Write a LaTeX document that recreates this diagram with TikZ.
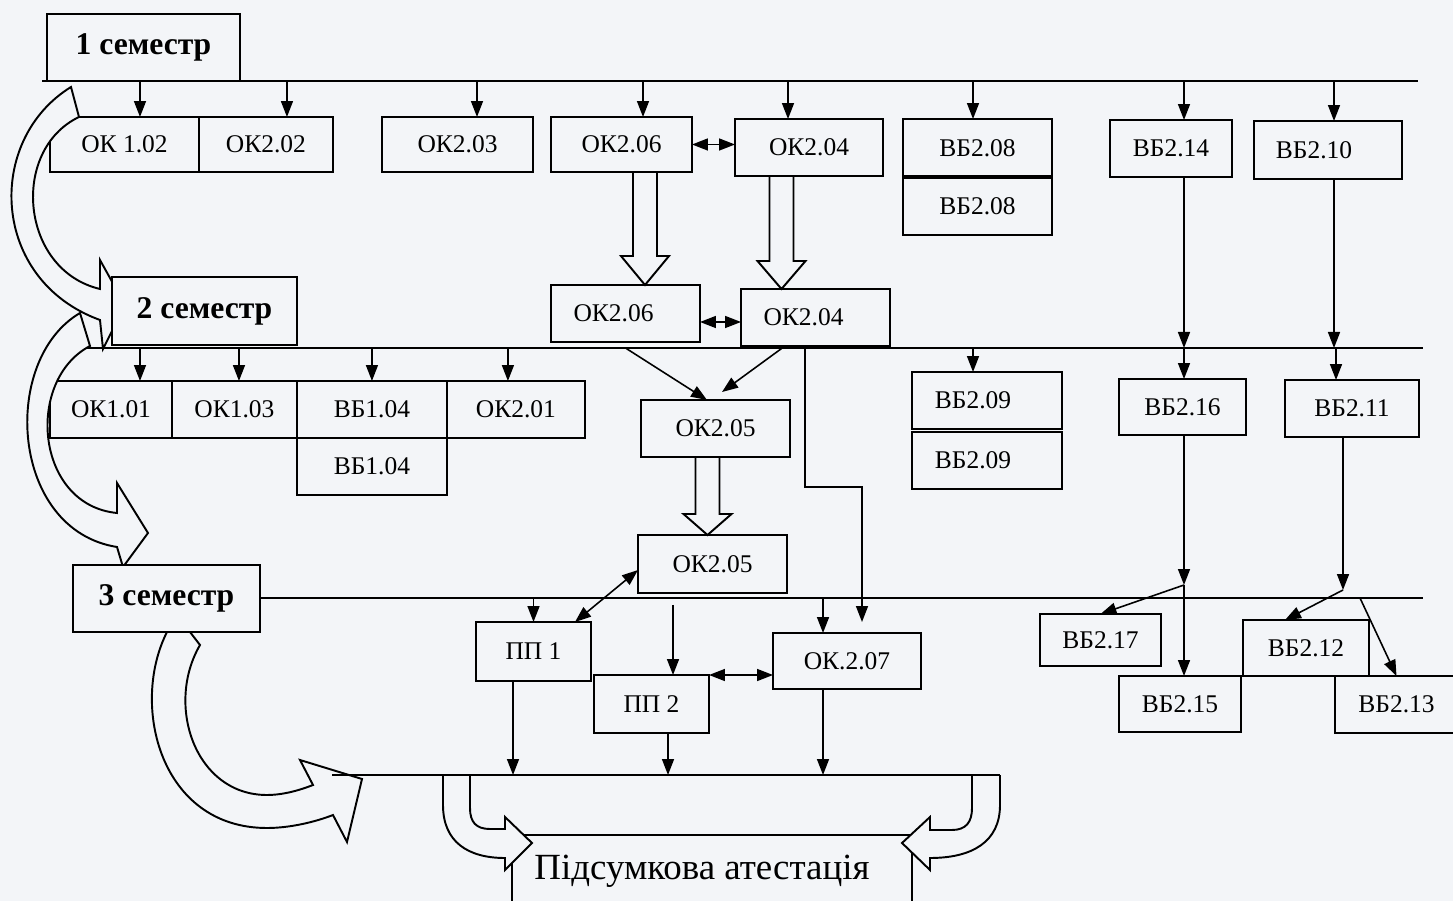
\documentclass[tikz,border=0pt]{standalone}
\usepackage{fontspec}
\setmainfont{Liberation Serif}
\usetikzlibrary{positioning,arrows.meta,calc}

\definecolor{paper}{RGB}{243,245,248}

\tikzset{
  box/.style={draw, fill=paper, line width=1.1pt, inner sep=0pt, outer sep=0pt,
    minimum height=1.14cm, font=\fontsize{14.5}{16}\selectfont},
  semBox/.style={box, minimum height=1.34cm, font=\fontsize{18}{20}\selectfont\bfseries},
  arr/.style={line width=0.9pt, -{Triangle[length=0.32cm,width=0.24cm]}},
  dblArr/.style={line width=0.9pt,
    {Triangle[length=0.32cm,width=0.24cm]}-{Triangle[length=0.32cm,width=0.24cm]}},
  hollow/.style={line width=1.1pt, line join=miter},
  bus/.style={line width=1.1pt}
}

% hollow block arrow: start, tip, head length
\newcommand{\fatArrow}[3]{%
  \draw[hollow] ($(#1)+(-12,0)$) -- ($(#2)+(-12,-#3)$) -- ($(#2)+(-24,-#3)$) -- (#2)
    -- ($(#2)+(24,-#3)$) -- ($(#2)+(12,-#3)$) -- ($(#1)+(12,0)$);}
\newcommand{\padR}[1]{\kern#1\relax} % pushes the text a bit to the left

\begin{document}
\begin{tikzpicture}[x=0.02cm, y=-0.02cm]
  \fill[paper] (0,0) rectangle (1453,901);
  \useasboundingbox (0,0) rectangle (1453,901);

  % bus lines
  \coordinate (bus1w) at (42,81);    \coordinate (bus1e) at (1418,81);
  \coordinate (bus2w) at (85,348);   \coordinate (bus2e) at (1423,348);
  \coordinate (bus3w) at (260,598);  \coordinate (bus3e) at (1423,598);
  \coordinate (bus4w) at (332,775);  \coordinate (bus4e) at (1000,775);
  \draw[bus] (bus1w) -- (bus1e);
  \draw[bus] (bus2w) -- (bus2e);
  \draw[bus] (bus3w) -- (bus3e);

  % 1 семестр
  \node[box, minimum width=2.98cm, minimum height=1.1cm] (ok102) at (124.5,144.5) {ОК 1.02};
  \node[box, minimum width=2.68cm, minimum height=1.1cm, right=0pt of ok102] (ok202) {ОК2.02};
  \node[box, minimum width=3.02cm, minimum height=1.1cm] (ok203) at (457.5,144.5) {ОК2.03};
  \node[box, minimum width=2.82cm, minimum height=1.1cm] (ok206a) at (621.5,144.5) {ОК2.06};
  \node[box, minimum width=2.96cm] (ok204a) at (809,147.5) {ОК2.04};
  \node[box, minimum width=2.98cm, minimum height=1.16cm] (vb208a) at (977.5,148) {ВБ2.08};
  \node[box, minimum width=2.98cm, minimum height=1.16cm, below=0pt of vb208a] (vb208b) {ВБ2.08};
  \draw[line width=2.4pt] (vb208a.south west) -- (vb208a.south east);
  \node[box, minimum width=2.44cm] (vb214) at (1171,148.5) {ВБ2.14};
  \node[box, minimum width=2.96cm, minimum height=1.16cm] (vb210) at (1328,150) {ВБ2.10\padR{0.56cm}};

  \node[box, minimum width=2.98cm] (ok206b) at (625.5,313.5) {ОК2.06\padR{0.48cm}};
  \node[box, minimum width=2.98cm] (ok204b) at (815.5,317.5) {ОК2.04\padR{0.48cm}};

  % 2 семестр
  \node[box, minimum width=2.44cm] (ok101) at (111,409.5) {ОК1.01};
  \node[box, minimum width=2.5cm, right=0pt of ok101] (ok103) {ОК1.03};
  \node[box, minimum width=3cm, right=0pt of ok103] (vb104a) {ВБ1.04};
  \node[box, minimum width=2.76cm, right=0pt of vb104a] (ok201) {ОК2.01};
  \node[box, minimum width=3cm, below=0pt of vb104a] (vb104b) {ВБ1.04};
  \node[box, minimum width=2.98cm] (ok205a) at (715.5,428.5) {ОК2.05};
  \node[box, minimum width=3cm] (vb209a) at (987,400.5) {ВБ2.09\padR{0.56cm}};
  \node[box, minimum width=3cm, below=0.06cm of vb209a] (vb209b) {ВБ2.09\padR{0.56cm}};
  \node[box, minimum width=2.54cm, minimum height=1.12cm] (vb216) at (1182.5,407) {ВБ2.16};
  \node[box, minimum width=2.68cm] (vb211) at (1352,408.5) {ВБ2.11};

  % 3 семестр
  \node[box, minimum width=2.98cm, minimum height=1.16cm] (ok205b) at (712.5,564) {ОК2.05};
  \node[box, minimum width=2.3cm, minimum height=1.18cm] (pp1) at (533.5,651.5) {ПП 1};
  \node[box, minimum width=2.3cm, minimum height=1.16cm] (pp2) at (651.5,704) {ПП 2};
  \node[box, minimum width=2.96cm, minimum height=1.12cm] (ok207) at (847,661) {ОК.2.07};
  \node[box, minimum width=2.42cm, minimum height=1.04cm] (vb217) at (1100.5,640) {ВБ2.17};
  \node[box, minimum width=2.44cm, minimum height=1.12cm] (vb215) at (1180,704) {ВБ2.15};
  \node[box, minimum width=2.52cm, minimum height=1.12cm] (vb212) at (1306,648) {ВБ2.12};
  \node[box, minimum width=2.46cm] (vb213) at (1396.5,704.5) {ВБ2.13};

  % curved arrows between semesters
  \draw[hollow, fill=paper] (71,87) .. controls (-15,140) and (-10,280) .. (100,320)
    -- (103,349) -- (125,305) -- (100,260) -- (100,289)
    .. controls (20,270) and (10,150) .. (79,117) -- cycle;
  \draw[hollow, fill=paper] (80,313) .. controls (0,360) and (10,530) .. (117,547)
    -- (123,567) -- (148,533) -- (117,483) -- (117,513)
    .. controls (35,505) and (25,380) .. (90,346) -- cycle;
  \draw[hollow, fill=paper] (167,632) .. controls (130,705) and (160,828) .. (267,828)
    .. controls (290,828) and (315,822) .. (333,815) -- (347,842) -- (362,779)
    -- (300,760) -- (313,785) .. controls (295,792) and (280,795) .. (267,795)
    .. controls (195,795) and (165,705) .. (200,645) -- (190,632) -- cycle;

  \node[semBox, minimum width=3.86cm] (sem1) at (143.5,47.5) {1 семестр};
  \node[semBox, minimum width=3.7cm, minimum height=1.36cm] (sem2) at (204.5,311) {2 семестр};
  \node[semBox, minimum width=3.74cm] (sem3) at (166.5,598.5) {3 семестр};

  % arrows from the bus lines
  \foreach \n/\dx in {ok102/0.31, ok202/0.42, ok203/0.39, ok206a/0.43, ok204a/-0.42,
                      vb208a/-0.09, vb214/0.26, vb210/0.12}
    \draw[arr] ([xshift=\dx cm]\n.north |- bus1w) -- ([xshift=\dx cm]\n.north);
  \foreach \n/\dx in {ok101/0.58, ok103/0.09, vb104a/0, ok201/-0.16, vb209a/-0.28,
                      vb216/0.03, vb211/-0.32}
    \draw[arr] ([xshift=\dx cm]\n.north |- bus2w) -- ([xshift=\dx cm]\n.north);
  \foreach \n/\dx in {pp1/0, ok207/-0.48}
    \draw[arr] ([xshift=\dx cm]\n.north |- bus3e) -- ([xshift=\dx cm]\n.north);

  \draw[dblArr] (ok206a.east) -- (ok206a.east -| ok204a.west);
  \draw[dblArr] ([yshift=-0.17cm]ok206b.east) -- ([yshift=-0.17cm]ok206b.east -| ok204b.west);

  % hollow arrows
  \coordinate (h1s) at ([xshift=0.47cm]ok206a.south);
  \coordinate (h1t) at (h1s |- ok206b.north);
  \fatArrow{h1s}{h1t}{29}
  \coordinate (h2s) at ([xshift=-0.55cm]ok204a.south);
  \coordinate (h2t) at (h2s |- ok204b.north);
  \fatArrow{h2s}{h2t}{28}
  \coordinate (h3s) at ([xshift=-0.16cm]ok205a.south);
  \coordinate (h3t) at (h3s |- ok205b.north);
  \fatArrow{h3s}{h3t}{21}

  \draw[arr] (ok206b.south |- bus2w) -- ([xshift=-0.17cm]ok205a.north);
  \draw[arr] ([xshift=-0.61cm]ok204b.south) -- ([xshift=0.13cm,yshift=0.16cm]ok205a.north);
  \coordinate (bend) at (862,487);
  \draw[arr] ([xshift=-0.21cm]ok204b.south) |- (bend) -- ([xshift=0.3cm,yshift=0.22cm]ok207.north);

  \draw[arr] ([xshift=0.26cm]vb214.south) -- ([xshift=0.26cm]vb214.south |- bus2w);
  \draw[arr] ([xshift=0.12cm]vb210.south) -- ([xshift=0.12cm]vb210.south |- bus2w);

  \draw[arr] ([xshift=-0.79cm,yshift=-0.24cm]ok205b.south) -- ([xshift=-0.79cm]ok205b.south |- pp2.north);
  \draw[dblArr] ([xshift=-0.32cm]pp1.north east) -- ([yshift=-0.12cm]ok205b.west);
  \draw[dblArr] (pp2.north east) -- (pp2.north east -| ok207.west);

  % right branches
  \coordinate (j1) at (1184,585);
  \coordinate (j2) at (1343,590);
  \coordinate (j3) at (1360,598);
  \draw[arr] ([xshift=0.03cm]vb216.south) -- (j1);
  \draw[arr] (j1) -- (vb217.north);
  \draw[arr] (j1) -- (j1 |- vb215.north);
  \draw[arr] ([xshift=-0.18cm]vb211.south) -- (j2);
  \draw[arr] (j2) -- ([xshift=-0.42cm]vb212.north);
  \draw[arr] (j3) -- (vb213.north);

  % final attestation
  \foreach \n/\dx in {pp1/-0.41, pp2/0.33, ok207/-0.48}
    \draw[arr] ([xshift=\dx cm]\n.south) -- ([xshift=\dx cm]\n.south |- bus4w);
  \node[draw, fill=paper, line width=1.1pt, anchor=north, minimum width=8cm, inner sep=0.2cm,
    text height=0.7cm, text depth=1.6cm, font=\fontsize{21}{24}\selectfont]
    (final) at (712,834) {Підсумкова атестація\padR{0.4cm}};
  \draw[hollow, fill=paper] (443,775) -- (443,805) .. controls (443,842) and (468,858) .. (505,858)
    -- (505,870) -- (532,843) -- (505,817) -- (505,829) -- (490,829)
    .. controls (476,829) and (470,822) .. (470,808) -- (470,775);
  \draw[hollow, fill=paper] (1000,775) -- (1000,805) .. controls (1000,842) and (972,858) .. (930,858)
    -- (930,870) -- (902,843) -- (930,817) -- (930,830) -- (952,830)
    .. controls (966,830) and (972,822) .. (972,808) -- (972,775);
  \draw[bus] (bus4w) -- (bus4e);
\end{tikzpicture}
\end{document}
